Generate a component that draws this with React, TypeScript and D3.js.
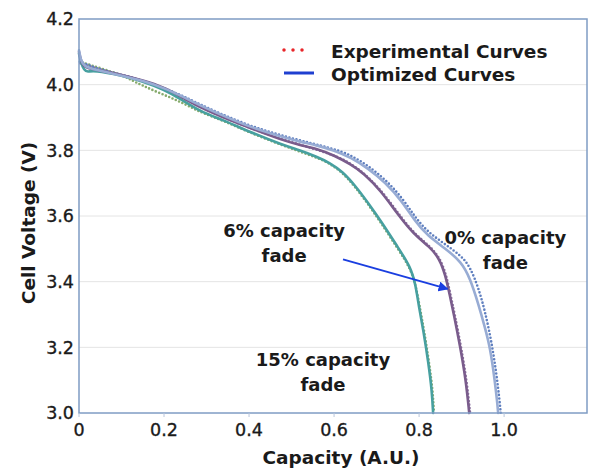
import React from "react";
import * as d3 from "d3";

const W = 591;
const H = 473;
const MARGIN = { top: 19, right: 4, bottom: 60, left: 79 };
const FONT = "'DejaVu Sans', sans-serif";

const X_TICKS = [0, 0.2, 0.4, 0.6, 0.8, 1.0];
const X_TICK_LABELS = ["0", "0.2", "0.4", "0.6", "0.8", "1.0"];
const Y_TICKS = [3.0, 3.2, 3.4, 3.6, 3.8, 4.0, 4.2];
const X_MAX = 1.195;

// [capacity, voltage]
const fade0Optimized = [
  [0, 4.105], [0.004, 4.075], [0.012, 4.055], [0.04, 4.045], [0.1, 4.028],
  [0.15, 4.012], [0.2, 3.99], [0.25, 3.96], [0.285, 3.937], [0.34, 3.905],
  [0.4, 3.872], [0.48, 3.84], [0.52, 3.826], [0.56, 3.815], [0.6, 3.8],
  [0.64, 3.778], [0.68, 3.745], [0.72, 3.703], [0.76, 3.645], [0.79, 3.585],
  [0.82, 3.54], [0.86, 3.503], [0.9, 3.46], [0.92, 3.41], [0.94, 3.33],
  [0.955, 3.26], [0.967, 3.2], [0.978, 3.1], [0.984, 3.03], [0.986, 3.0],
];
const fade0Experimental = [
  [0.002, 4.07], [0.04, 4.05], [0.1, 4.03], [0.15, 4.013], [0.2, 3.99],
  [0.25, 3.962], [0.3, 3.93], [0.4, 3.874], [0.5, 3.836], [0.6, 3.805],
  [0.64, 3.785], [0.68, 3.753], [0.72, 3.712], [0.76, 3.656], [0.79, 3.597],
  [0.82, 3.552], [0.86, 3.515], [0.9, 3.478], [0.92, 3.445], [0.94, 3.38],
  [0.955, 3.31], [0.97, 3.22], [0.982, 3.12], [0.99, 3.03], [0.992, 3.0],
];
const fade6Optimized = [
  [0, 4.1], [0.005, 4.068], [0.015, 4.05], [0.05, 4.043], [0.1, 4.03],
  [0.15, 4.013], [0.2, 3.992], [0.24, 3.964], [0.285, 3.93], [0.34, 3.9],
  [0.4, 3.869], [0.48, 3.83], [0.52, 3.816], [0.56, 3.805], [0.6, 3.785],
  [0.64, 3.757], [0.67, 3.73], [0.71, 3.677], [0.75, 3.605], [0.787, 3.545],
  [0.826, 3.505], [0.848, 3.47], [0.862, 3.42], [0.872, 3.36], [0.882, 3.3],
  [0.897, 3.2], [0.91, 3.1], [0.918, 3.0],
];
const fade6Experimental = [
  [0.003, 4.065], [0.05, 4.046], [0.1, 4.03], [0.15, 4.012], [0.2, 3.988],
  [0.25, 3.956], [0.3, 3.922], [0.4, 3.868], [0.5, 3.824], [0.6, 3.787],
  [0.64, 3.76], [0.68, 3.72], [0.72, 3.664], [0.76, 3.592], [0.79, 3.545],
  [0.826, 3.508], [0.85, 3.47], [0.864, 3.42], [0.874, 3.36], [0.884, 3.3],
  [0.899, 3.2], [0.912, 3.1], [0.92, 3.0],
];
const fade15Optimized = [
  [0, 4.095], [0.005, 4.065], [0.012, 4.045], [0.02, 4.038], [0.035, 4.044],
  [0.1, 4.028], [0.15, 4.01], [0.2, 3.985], [0.24, 3.956], [0.285, 3.918],
  [0.34, 3.892], [0.4, 3.857], [0.48, 3.816], [0.52, 3.8], [0.56, 3.78],
  [0.59, 3.762], [0.62, 3.735], [0.65, 3.692], [0.68, 3.64], [0.71, 3.585],
  [0.75, 3.505], [0.78, 3.445], [0.792, 3.39], [0.8, 3.32], [0.81, 3.253],
  [0.822, 3.152], [0.83, 3.07], [0.833, 3.0],
];
const fade15Experimental = [
  [0.008, 4.068], [0.05, 4.05], [0.1, 4.03], [0.12, 4.016], [0.15, 3.997],
  [0.19, 3.974], [0.23, 3.953], [0.268, 3.928], [0.29, 3.914], [0.34, 3.89],
  [0.4, 3.855], [0.48, 3.814], [0.56, 3.778], [0.59, 3.76], [0.62, 3.732],
  [0.65, 3.688], [0.68, 3.636], [0.71, 3.58], [0.75, 3.5], [0.78, 3.44],
  [0.793, 3.385], [0.802, 3.32], [0.812, 3.25], [0.824, 3.15], [0.832, 3.07],
  [0.835, 3.0],
];

const SERIES = [
  { data: fade15Experimental, color: "#86ab6c", dotted: true },
  { data: fade6Experimental, color: "#8d74a0", dotted: true },
  { data: fade0Experimental, color: "#5f7fbf", dotted: true },
  { data: fade15Optimized, color: "#47a0a0", dotted: false },
  { data: fade6Optimized, color: "#7a5c8c", dotted: false },
  { data: fade0Optimized, color: "#98acd4", dotted: false },
];

const LEGEND = [
  { label: "Experimental Curves", color: "#e8262a", dotted: true },
  { label: "Optimized Curves", color: "#1f3fd0", dotted: false },
];

const ANNOTATIONS = [
  { lines: ["6% capacity", "fade"], cap: 0.4825, v: 3.535 },
  { lines: ["0% capacity", "fade"], cap: 1.003, v: 3.515 },
  { lines: ["15% capacity", "fade"], cap: 0.574, v: 3.143 },
];
const ARROW = { from: [0.621, 3.468], to: [0.867, 3.378] };

export default function App() {
  const x = d3.scaleLinear().domain([0, X_MAX]).range([MARGIN.left, W - MARGIN.right]);
  const y = d3.scaleLinear().domain([3.0, 4.2]).range([H - MARGIN.bottom, MARGIN.top]);
  const line = d3
    .line<number[]>()
    .x((d) => x(d[0]))
    .y((d) => y(d[1]))
    .curve(d3.curveBasis);

  const x0 = x(0);
  const x1 = x(X_MAX);
  const yB = y(3.0);
  const yT = y(4.2);

  return (
    <svg width={W} height={H} style={{ position: "absolute", left: 0, top: 0, background: "#fff" }}>
      <defs>
        <marker id="ah" viewBox="0 0 10 10" refX="9" refY="5" markerWidth="5" markerHeight="5" orient="auto">
          <path d="M0,0 L10,5 L0,10 z" fill="#1a3ee0" />
        </marker>
      </defs>
      {Y_TICKS.slice(1, -1).map((t) => (
        <line key={t} x1={x0} x2={x1} y1={y(t)} y2={y(t)} stroke="#e4e4e4" strokeWidth={1} />
      ))}
      {SERIES.map((s, i) => (
        <path
          key={i}
          d={line(s.data) || ""}
          fill="none"
          stroke={s.color}
          strokeWidth={2.6}
          strokeLinecap="round"
          strokeDasharray={s.dotted ? "0 3.6" : undefined}
        />
      ))}
      <rect x={x0} y={yT} width={x1 - x0} height={yB - yT} fill="none" stroke="#7f9cc4" strokeWidth={1.5} />
      {X_TICKS.map((t) => (
        <line key={t} x1={x(t)} x2={x(t)} y1={yB} y2={yB + 4} stroke="#b8c6dc" strokeWidth={1} />
      ))}
      {Y_TICKS.map((t) => (
        <text key={t} x={x0 - 5} y={y(t)} dy="0.36em" textAnchor="end" fontSize={17.5} fontFamily={FONT} fill="#1a1a1a" stroke="#1a1a1a" strokeWidth={0.35}>
          {t.toFixed(1)}
        </text>
      ))}
      {X_TICKS.map((t, i) => (
        <text key={t} x={x(t)} y={yB + 23} textAnchor="middle" fontSize={17.5} fontFamily={FONT} fill="#1a1a1a" stroke="#1a1a1a" strokeWidth={0.35}>
          {X_TICK_LABELS[i]}
        </text>
      ))}
      <text x={341} y={464} textAnchor="middle" fontSize={18.5} fontWeight="bold" fontFamily={FONT} fill="#1a1a1a">
        Capacity (A.U.)
      </text>
      <text
        transform={`translate(35,223) rotate(-90)`}
        textAnchor="middle"
        fontSize={18.5}
        fontWeight="bold"
        fontFamily={FONT}
        fill="#1a1a1a"
      >
        Cell Voltage (V)
      </text>
      {LEGEND.map((l, i) => (
        <g key={l.label} transform={`translate(284,${50 + i * 23})`}>
          <line
            x1={0}
            x2={l.dotted ? 26 : 30}
            y1={0}
            y2={0}
            stroke={l.color}
            strokeWidth={l.dotted ? 3.5 : 3}
            strokeLinecap={l.dotted ? "round" : "butt"}
            strokeDasharray={l.dotted ? "0 9" : undefined}
          />
          <text x={47} y={1} dy="0.36em" fontSize={18.5} fontWeight="bold" fontFamily={FONT} fill="#1a1a1a">
            {l.label}
          </text>
        </g>
      ))}
      {ANNOTATIONS.map((a) => (
        <text key={a.lines[0]} x={x(a.cap)} y={y(a.v)} textAnchor="middle" fontSize={18} fontWeight="bold" fontFamily={FONT} fill="#1a1a1a">
          {a.lines.map((ln, j) => (
            <tspan key={j} x={x(a.cap)} dy={j === 0 ? 0 : 25}>
              {ln}
            </tspan>
          ))}
        </text>
      ))}
      <line
        x1={x(ARROW.from[0])}
        y1={y(ARROW.from[1])}
        x2={x(ARROW.to[0])}
        y2={y(ARROW.to[1])}
        stroke="#1a3ee0"
        strokeWidth={2}
        markerEnd="url(#ah)"
      />
    </svg>
  );
}
